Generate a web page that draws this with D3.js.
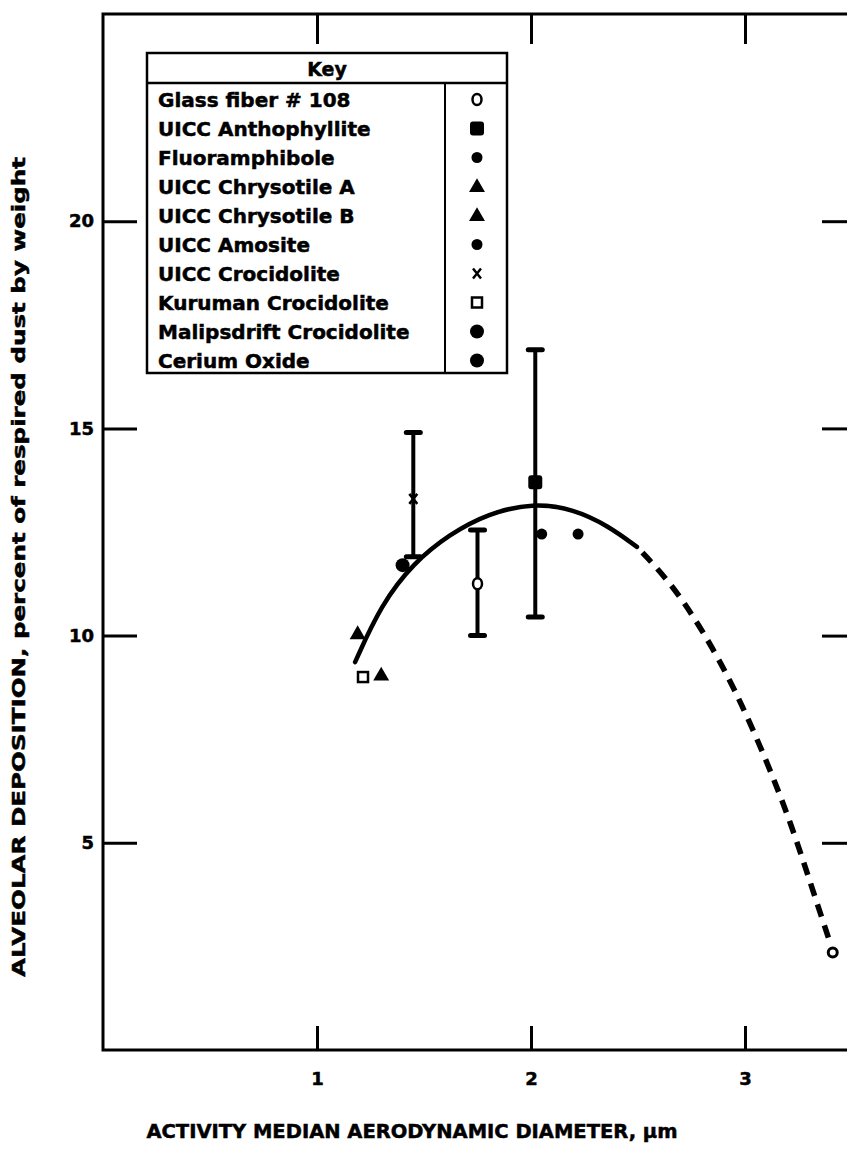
<!DOCTYPE html>
<html><head><meta charset="utf-8">
<script src="https://cdn.jsdelivr.net/npm/d3@7"></script>
<style>body{margin:0;background:#fff}svg{display:block}text{stroke:#000;stroke-width:0.5px}</style>
</head><body><svg id="c" width="847" height="1151"></svg>
<script>
// ---- data ----
const xTicks = [1, 2, 3];
const yTicks = [5, 10, 15, 20];
const keyLabels = ["Glass fiber # 108","UICC Anthophyllite","Fluoramphibole","UICC Chrysotile A","UICC Chrysotile B","UICC Amosite","UICC Crocidolite","Kuruman Crocidolite","Malipsdrift Crocidolite","Cerium Oxide"];
const keySymbols = ["openCircle","filledSquare","smallDot","triangle","triangle","smallDot","cross","openSquare","bigDot","bigDot"];
const pointSeries = ["Glass fiber # 108","UICC Anthophyllite","Fluoramphibole","UICC Chrysotile A","UICC Chrysotile B","UICC Amosite","UICC Crocidolite","Kuruman Crocidolite","Malipsdrift Crocidolite","Cerium Oxide"];
const pointX = [1.75, 2.02, 2.05, 1.19, 1.30, 2.22, 1.45, 1.215, 1.40, 3.41];
const pointY = [11.25, 13.7, 12.45, 10.05, 9.05, 12.45, 13.3, 9.0, 11.7, 2.35];
const errX = [1.75, 2.02, 1.45];
const errLow = [10.0, 10.45, 11.9];
const errHigh = [12.55, 16.9, 14.9];
const solidX = [1.178, 1.30, 1.45, 1.62, 1.80, 2.01, 2.20, 2.36, 2.495];
const solidY = [9.36, 10.75, 11.75, 12.45, 12.95, 13.2, 13.05, 12.65, 12.14];
const dashX = [2.495, 2.65, 2.80, 2.95, 3.10, 3.22, 3.32, 3.40];
const dashY = [12.14, 11.3, 10.15, 8.75, 7.0, 5.4, 3.8, 2.55];

const FONT = "'DejaVu Sans', sans-serif";
const svg = d3.select("#c");
const x = d3.scaleLinear().domain([0, 3.5]).range([103, 852]);
const y = d3.scaleLinear().domain([0, 25]).range([1050, 14]);

svg.append("rect").attr("x", x(0)).attr("y", y(25)).attr("width", x(3.5) - x(0)).attr("height", y(0) - y(25))
  .attr("fill", "none").attr("stroke", "#000").attr("stroke-width", 3);

function styleAxis(g) {
  g.select(".domain").remove();
  g.selectAll(".tick line").attr("stroke", "#000").attr("stroke-width", 3);
  g.selectAll("text").attr("font-family", FONT).attr("font-weight", "bold").attr("font-size", 18).attr("fill", "#000");
}
svg.append("g").attr("transform", `translate(0,${y(0)})`)
  .call(d3.axisBottom(x).tickValues(xTicks).tickSizeInner(-24).tickSizeOuter(0).tickPadding(22).tickFormat(d3.format("d")))
  .call(styleAxis);
svg.append("g").attr("transform", `translate(0,${y(25)})`)
  .call(d3.axisTop(x).tickValues(xTicks).tickSizeInner(-30).tickSizeOuter(0).tickFormat(""))
  .call(styleAxis);
svg.append("g").attr("transform", `translate(${x(0)},0)`)
  .call(d3.axisLeft(y).tickValues(yTicks).tickSizeInner(-34).tickSizeOuter(0).tickPadding(9).tickFormat(d3.format("d")))
  .call(styleAxis);
svg.append("g").attr("transform", `translate(${x(3.5)},0)`)
  .call(d3.axisRight(y).tickValues(yTicks).tickSizeInner(-30).tickSizeOuter(0).tickFormat(""))
  .call(styleAxis);

svg.append("text").attr("x", 412).attr("y", 1138).attr("text-anchor", "middle")
  .attr("font-family", FONT).attr("font-weight", "bold").attr("font-size", 19.5)
  .text("ACTIVITY MEDIAN AERODYNAMIC DIAMETER, \u03bcm");
svg.append("text").attr("transform", "translate(25,567) rotate(-90)").attr("text-anchor", "middle")
  .attr("font-family", FONT).attr("font-weight", "bold").attr("font-size", 18)
  .attr("textLength", 820).attr("lengthAdjust", "spacingAndGlyphs")
  .text("ALVEOLAR DEPOSITION, percent of respired dust by weight");

const line = d3.line().x(d => x(d[0])).y(d => y(d[1])).curve(d3.curveBasis);
svg.append("path").datum(solidX.map((v, i) => [v, solidY[i]])).attr("d", line)
  .attr("fill", "none").attr("stroke", "#000").attr("stroke-width", 4.5).attr("stroke-linecap", "round");
svg.append("path").datum(dashX.map((v, i) => [v, dashY[i]])).attr("d", line)
  .attr("fill", "none").attr("stroke", "#000").attr("stroke-width", 5.5).attr("stroke-dasharray", "13,9").attr("stroke-dashoffset", -8);

errX.forEach((v, i) => {
  const g = svg.append("g");
  g.append("line").attr("x1", x(v)).attr("x2", x(v)).attr("y1", y(errLow[i])).attr("y2", y(errHigh[i]))
    .attr("stroke", "#000").attr("stroke-width", 4);
  [errLow[i], errHigh[i]].forEach(e => g.append("line").attr("x1", x(v) - 7).attr("x2", x(v) + 7)
    .attr("y1", y(e)).attr("y2", y(e)).attr("stroke", "#000").attr("stroke-width", 5).attr("stroke-linecap", "round"));
});

function drawSymbol(g, type, cx, cy) {
  switch (type) {
    case "openCircle":
      g.append("ellipse").attr("cx", cx).attr("cy", cy).attr("rx", 4.5).attr("ry", 5.5).attr("fill", "#fff").attr("stroke", "#000").attr("stroke-width", 2.5); break;
    case "filledSquare":
      g.append("rect").attr("x", cx - 7).attr("y", cy - 7).attr("width", 14).attr("height", 14).attr("rx", 3).attr("fill", "#000"); break;
    case "smallDot":
      g.append("circle").attr("cx", cx).attr("cy", cy).attr("r", 5.5).attr("fill", "#000"); break;
    case "bigDot":
      g.append("circle").attr("cx", cx).attr("cy", cy).attr("r", 7).attr("fill", "#000"); break;
    case "triangle":
      g.append("path").attr("d", d3.symbol(d3.symbolTriangle, 110)()).attr("transform", `translate(${cx},${cy + 1})`).attr("fill", "#000"); break;
    case "cross":
      g.append("path").attr("d", `M${cx - 4},${cy - 5}L${cx + 4},${cy + 5}M${cx + 4},${cy - 5}L${cx - 4},${cy + 5}`).attr("stroke", "#000").attr("stroke-width", 2.5); break;
    case "openSquare":
      g.append("rect").attr("x", cx - 5).attr("y", cy - 5).attr("width", 10).attr("height", 10).attr("fill", "#fff").attr("stroke", "#000").attr("stroke-width", 2.5); break;
  }
}

const pts = svg.append("g");
pointSeries.forEach((s, i) => {
  const type = keySymbols[keyLabels.indexOf(s)];
  if (s === "Cerium Oxide") {
    pts.append("circle").attr("cx", x(pointX[i])).attr("cy", y(pointY[i])).attr("r", 4.5).attr("fill", "#fff").attr("stroke", "#000").attr("stroke-width", 3);
  } else {
    drawSymbol(pts, type, x(pointX[i]), y(pointY[i]));
  }
});

const L = {x0: 147, x1: 507, y0: 53, head: 83, div: 445, row: 29};
const lg = svg.append("g");
lg.append("rect").attr("x", L.x0).attr("y", L.y0).attr("width", L.x1 - L.x0).attr("height", L.head - L.y0 + L.row * keyLabels.length)
  .attr("fill", "#fff").attr("stroke", "#000").attr("stroke-width", 2.5);
lg.append("line").attr("x1", L.x0).attr("x2", L.x1).attr("y1", L.head).attr("y2", L.head).attr("stroke", "#000").attr("stroke-width", 2.5);
lg.append("line").attr("x1", L.div).attr("x2", L.div).attr("y1", L.head).attr("y2", L.head + L.row * keyLabels.length).attr("stroke", "#000").attr("stroke-width", 2);
lg.append("text").attr("x", (L.x0 + L.x1) / 2).attr("y", L.head - 7).attr("text-anchor", "middle")
  .attr("font-family", FONT).attr("font-weight", "bold").attr("font-size", 19).text("Key");
keyLabels.forEach((lab, i) => {
  const cy = L.head + L.row * i + L.row / 2 + 2;
  lg.append("text").attr("x", L.x0 + 11).attr("y", cy + 7).attr("font-family", FONT).attr("font-weight", "bold").attr("font-size", 20).text(lab);
  drawSymbol(lg, keySymbols[i], 477, cy);
});
</script></body></html>
